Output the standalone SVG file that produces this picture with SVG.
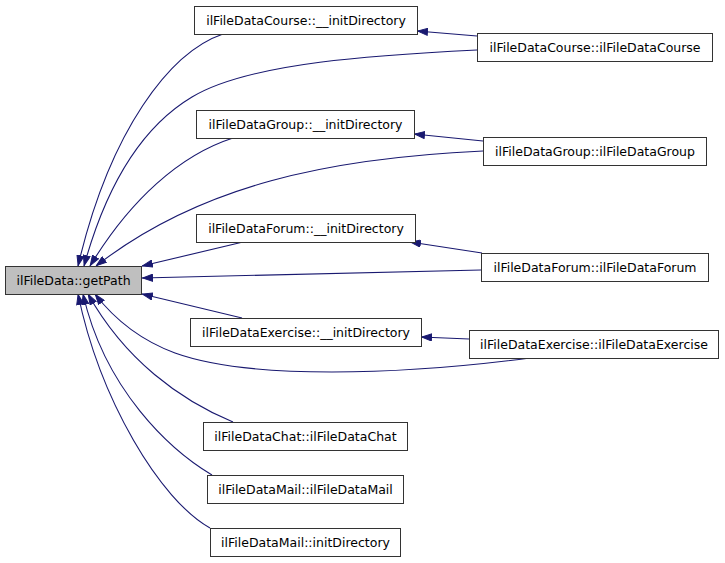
<svg xmlns="http://www.w3.org/2000/svg" width="725" height="563" viewBox="0 0 725 563">
<style>
.n rect{fill:#ffffff;stroke:#333333;stroke-width:1}
.n text{font-family:"DejaVu Sans",sans-serif;font-size:12.5px;fill:#000000;text-anchor:middle}
#getPath rect{fill:#bfbfbf}
.e path{fill:none;stroke:#191970;stroke-width:1.1;marker-end:url(#ah)}
</style>
<defs>
<marker id="ah" viewBox="0 0 11 8" refX="11" refY="4" markerWidth="11" markerHeight="8" markerUnits="userSpaceOnUse" orient="auto">
<path d="M0.5,0.5 L10.5,4 L0.5,7.5 z" fill="#191970" stroke="#191970" stroke-width="1"/>
</marker>
</defs>
<rect width="725" height="563" fill="#ffffff"/>
<g id="connectors" class="e">
<path d="M223,34 C170,52 110,130 78,266"/>
<path d="M477,50 C380,55 250,62 192,97 C140,128 105,190 84,266"/>
<path d="M233,138 C180,155 130,200 90,266"/>
<path d="M483,151 C330,158 200,185 96,266"/>
<path d="M243,242 L142,266"/>
<path d="M481,270 L142,278"/>
<path d="M242,318 L142,294"/>
<path d="M530,358 C400,375 250,380 175,353 C140,340 115,320 95,294"/>
<path d="M233,422 C180,400 125,360 88,294"/>
<path d="M212,475 C170,450 105,390 83,294"/>
<path d="M210,528 C160,500 100,400 78,294"/>
<path d="M477,36 L417,31"/>
<path d="M483,141 L414,134"/>
<path d="M482,253 L410,242"/>
<path d="M469,339 L421,337"/>
</g>
<g id="getPath" class="n"><rect x="5.5" y="266.5" width="136" height="28"/><text x="73.5" y="285">ilFileData::getPath</text></g>
<g id="courseInit" class="n"><rect x="194.5" y="6.5" width="223" height="28"/><text x="306" y="25">ilFileDataCourse::__initDirectory</text></g>
<g id="groupInit" class="n"><rect x="196.5" y="110.5" width="218" height="28"/><text x="305.5" y="129">ilFileDataGroup::__initDirectory</text></g>
<g id="forumInit" class="n"><rect x="196.5" y="214.5" width="219" height="28"/><text x="306" y="233">ilFileDataForum::__initDirectory</text></g>
<g id="exerciseInit" class="n"><rect x="190.5" y="318.5" width="231" height="28"/><text x="306" y="337">ilFileDataExercise::__initDirectory</text></g>
<g id="courseCtor" class="n"><rect x="477.5" y="33.5" width="235" height="28"/><text x="595" y="52">ilFileDataCourse::ilFileDataCourse</text></g>
<g id="groupCtor" class="n"><rect x="483.5" y="137.5" width="223" height="28"/><text x="595" y="156">ilFileDataGroup::ilFileDataGroup</text></g>
<g id="forumCtor" class="n"><rect x="481.5" y="253.5" width="227" height="28"/><text x="595" y="272">ilFileDataForum::ilFileDataForum</text></g>
<g id="exerciseCtor" class="n"><rect x="469.5" y="330.5" width="249" height="28"/><text x="594" y="349">ilFileDataExercise::ilFileDataExercise</text></g>
<g id="chatCtor" class="n"><rect x="203.5" y="422.5" width="204" height="28"/><text x="305.5" y="441">ilFileDataChat::ilFileDataChat</text></g>
<g id="mailCtor" class="n"><rect x="207.5" y="475.5" width="196" height="28"/><text x="305.5" y="494">ilFileDataMail::ilFileDataMail</text></g>
<g id="mailInit" class="n"><rect x="210.5" y="528.5" width="190" height="28"/><text x="305.5" y="547">ilFileDataMail::initDirectory</text></g>
</svg>
